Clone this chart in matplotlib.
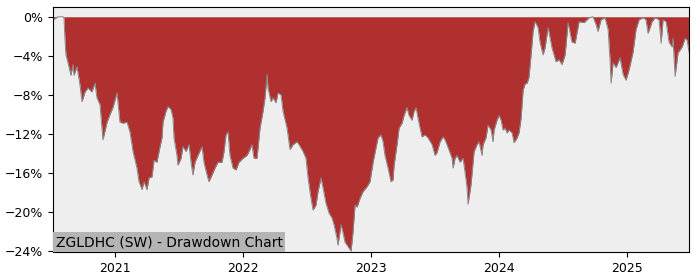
import numpy as np
import pandas as pd
import matplotlib
matplotlib.use('Agg')
import matplotlib.pyplot as plt

# drawdown: decimal year, drawdown in %
years = [2020.516, 2020.555, 2020.594, 2020.602, 2020.609, 2020.617, 2020.633, 2020.656, 2020.672, 2020.680,
         2020.703, 2020.727, 2020.742, 2020.766, 2020.789, 2020.820, 2020.844, 2020.859, 2020.883, 2020.906,
         2020.938, 2020.961, 2020.984, 2021.016, 2021.039, 2021.063, 2021.094, 2021.117, 2021.141, 2021.172,
         2021.188, 2021.211, 2021.227, 2021.250, 2021.266, 2021.289, 2021.305, 2021.328, 2021.344, 2021.367,
         2021.375, 2021.398, 2021.414, 2021.438, 2021.453, 2021.461, 2021.484, 2021.492, 2021.516, 2021.531,
         2021.555, 2021.578, 2021.594, 2021.609, 2021.625, 2021.648, 2021.680, 2021.695, 2021.719, 2021.734,
         2021.758, 2021.781, 2021.805, 2021.836, 2021.852, 2021.867, 2021.883, 2021.898, 2021.922, 2021.945,
         2021.969, 2022.000, 2022.031, 2022.047, 2022.070, 2022.086, 2022.109, 2022.133, 2022.156, 2022.172,
         2022.188, 2022.195, 2022.219, 2022.234, 2022.258, 2022.273, 2022.297, 2022.313, 2022.344, 2022.367,
         2022.391, 2022.422, 2022.438, 2022.469, 2022.492, 2022.508, 2022.531, 2022.547, 2022.570, 2022.586,
         2022.609, 2022.625, 2022.648, 2022.672, 2022.695, 2022.711, 2022.734, 2022.742, 2022.766, 2022.781,
         2022.797, 2022.813, 2022.828, 2022.844, 2022.859, 2022.875, 2022.891, 2022.914, 2022.938, 2022.969,
         2022.992, 2023.016, 2023.039, 2023.055, 2023.078, 2023.094, 2023.109, 2023.133, 2023.156, 2023.172,
         2023.180, 2023.203, 2023.219, 2023.242, 2023.258, 2023.281, 2023.297, 2023.320, 2023.336, 2023.352,
         2023.367, 2023.398, 2023.422, 2023.445, 2023.477, 2023.500, 2023.516, 2023.539, 2023.563, 2023.578,
         2023.602, 2023.633, 2023.641, 2023.656, 2023.672, 2023.695, 2023.719, 2023.734, 2023.750, 2023.758,
         2023.781, 2023.797, 2023.805, 2023.828, 2023.844, 2023.867, 2023.875, 2023.898, 2023.914, 2023.938,
         2023.953, 2023.961, 2023.984, 2024.000, 2024.016, 2024.031, 2024.047, 2024.063, 2024.078, 2024.102,
         2024.117, 2024.141, 2024.156, 2024.172, 2024.188, 2024.203, 2024.219, 2024.234, 2024.250, 2024.266,
         2024.281, 2024.305, 2024.320, 2024.344, 2024.359, 2024.383, 2024.414, 2024.445, 2024.469, 2024.492,
         2024.516, 2024.539, 2024.570, 2024.594, 2024.625, 2024.664, 2024.703, 2024.734, 2024.758, 2024.773,
         2024.797, 2024.828, 2024.852, 2024.867, 2024.875, 2024.891, 2024.914, 2024.945, 2024.969, 2024.992,
         2025.016, 2025.047, 2025.070, 2025.094, 2025.125, 2025.148, 2025.164, 2025.195, 2025.219, 2025.250,
         2025.266, 2025.281, 2025.305, 2025.328, 2025.352, 2025.359, 2025.375, 2025.398, 2025.430, 2025.453,
         2025.469, 2025.484]
drawdown = [-0.3, 0.0, 0.0, -0.1, -2.2, -3.9, -4.7, -6.0, -4.9, -6.0,
            -5.1, -7.0, -8.7, -7.7, -7.3, -7.7, -6.8, -8.3, -9.0, -12.6,
            -10.8, -10.0, -9.3, -7.8, -10.8, -10.9, -10.8, -11.8, -13.8, -15.5,
            -16.9, -17.7, -16.9, -17.7, -16.5, -16.4, -14.7, -14.9, -13.8, -12.4,
            -10.8, -9.7, -9.2, -9.5, -10.4, -12.4, -14.2, -15.2, -14.5, -13.3,
            -13.8, -13.1, -14.9, -16.2, -14.9, -14.2, -13.3, -14.9, -16.2, -16.9,
            -16.2, -15.5, -14.9, -14.9, -13.8, -12.1, -11.8, -14.2, -15.5, -15.7,
            -14.9, -14.5, -14.2, -13.8, -13.1, -14.5, -14.5, -11.4, -9.7, -8.3,
            -5.9, -7.3, -8.7, -8.3, -8.8, -7.8, -8.0, -9.7, -11.4, -13.6,
            -13.1, -12.8, -13.1, -13.8, -14.5, -16.5, -18.6, -19.8, -19.3, -17.9,
            -16.5, -17.5, -19.1, -20.1, -20.6, -21.3, -22.7, -23.4, -21.3, -22.1,
            -23.1, -23.4, -23.7, -24.0, -22.1, -19.3, -19.5, -18.6, -17.9, -17.4,
            -16.9, -14.9, -13.4, -12.4, -12.1, -12.8, -14.2, -15.5, -16.9, -16.7,
            -15.2, -13.1, -11.4, -10.9, -10.1, -9.3, -10.1, -10.6, -9.7, -9.3,
            -10.4, -12.3, -12.1, -12.4, -13.1, -14.2, -13.9, -12.8, -12.3, -12.6,
            -13.4, -14.5, -15.5, -14.5, -14.2, -14.9, -14.5, -15.9, -17.5, -19.2,
            -17.2, -14.9, -13.8, -13.1, -12.8, -14.2, -13.1, -12.4, -11.1, -11.6,
            -12.8, -11.6, -10.6, -10.1, -10.6, -11.6, -11.4, -11.9, -11.6, -11.9,
            -12.9, -12.4, -11.9, -10.4, -7.5, -6.9, -6.8, -6.2, -3.9, -1.5,
            -0.5, -1.1, -2.6, -3.9, -3.2, -1.1, -3.2, -4.6, -4.4, -4.9,
            -3.9, -0.6, -2.6, -2.7, -0.5, -0.6, -0.1, 0.0, -0.8, -1.5,
            -0.3, -0.1, -1.3, -4.4, -6.8, -4.7, -5.2, -4.2, -5.9, -6.5,
            -5.4, -3.6, -1.3, -0.3, -0.1, -0.3, -1.7, -0.5, -0.1, -0.3,
            -2.7, -0.3, -0.5, -2.6, -3.1, -2.2, -6.1, -3.7, -3.1, -2.2,
            -2.4, -3.6]

ytick_vals = [0, -4, -8, -12, -16, -20, -24]
title = 'ZGLDHC (SW) - Drawdown Chart'


def to_date(y):
    return pd.Timestamp('2021-01-01') + pd.to_timedelta((y - 2021) * 365.25, unit='D')


dates = [to_date(y) for y in years]
dd = np.array(drawdown)

fig = plt.figure(figsize=(7, 2.8), dpi=100)
ax = fig.add_axes([0.0757, 0.1, 0.9086, 0.875])
ax.set_facecolor('#eeeeee')

ax.fill_between(dates, dd, 0, color='#b03030', linewidth=0)
ax.plot(dates, dd, color='#888888', linewidth=0.7)

ax.set_xlim(to_date(years[0]), to_date(years[-1]))
ax.set_ylim(-24.1, 1.0)

ax.set_yticks(ytick_vals)
ax.set_yticklabels([f'{v}%'.replace('-', '\u2212') for v in ytick_vals], fontsize=9)
xt = [pd.Timestamp(f'{y}-01-01') for y in range(2021, 2026)]
ax.set_xticks(xt)
ax.set_xticklabels([str(y) for y in range(2021, 2026)], fontsize=9)

ax.text(0.004, 0.012, title, transform=ax.transAxes, ha='left', va='bottom', fontsize=10,
        bbox=dict(facecolor='#b4b4b4', edgecolor='none', pad=2))

fig.savefig('out.png', dpi=100)
